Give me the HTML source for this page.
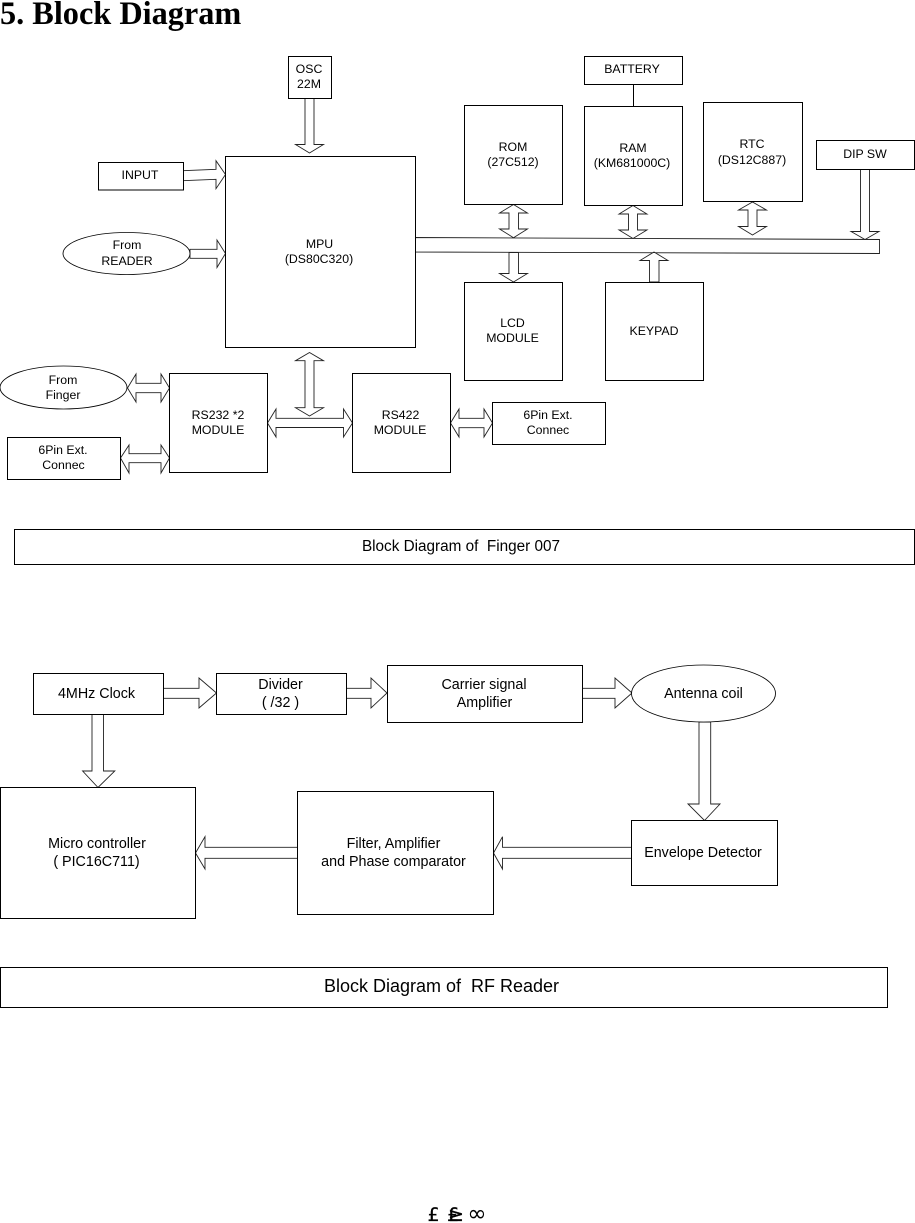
<!DOCTYPE html>
<html>
<head>
<meta charset="utf-8">
<style>
html,body{margin:0;padding:0;background:#fff;width:915px;height:1223px;overflow:hidden}
svg{display:block}
rect,ellipse{fill:#fff;stroke:#000;stroke-width:1}
ellipse{stroke-width:.85}
polygon{fill:#fff;stroke:#222;stroke-width:.9}
line{stroke:#000;stroke-width:1}
text{font-family:"Liberation Sans",sans-serif;font-size:12.3px;text-anchor:middle;fill:#000}
.r{font-size:14.3px}
.t{font-family:"Liberation Serif",serif;font-weight:bold;font-size:32.3px;text-anchor:start}
.f{font-family:"DejaVu Sans",sans-serif;font-size:19px;stroke:#000;stroke-width:.25}
</style>
</head>
<body>
<svg width="915" height="1223" viewBox="0 0 915 1223" xmlns="http://www.w3.org/2000/svg">
<text class="t" x="0" y="24">5. Block Diagram</text>

<!-- Finger 007 : bus -->
<polygon points="415,237.5 879.5,239.5 879.5,253.5 415,252"/>

<!-- arrows -->
<polygon points="305,98 314,98 314,144.5 323.5,144.5 309.5,153 295.5,144.5 305,144.5"/>
<polygon points="183,170.7 216,169.3 216,160.7 225.5,174.5 216,188.7 216,179.3 183,180.7"/>
<polygon points="190,249.3 217,249.3 217,240 225.5,253.5 217,267.5 217,258.3 190,258.3"/>
<polygon points="309.5,352.5 323.5,360.7 314,360.7 314,407.7 323.5,407.7 309.5,416 295.5,407.7 305,407.7 305,360.7 295.5,360.7"/>
<polygon points="267.5,423 276,409 276,418.3 343.5,418.3 343.5,409 352.5,423 343.5,437 343.5,427.5 276,427.5 276,437"/>
<polygon points="127.5,388 136,374 136,383.3 161,383.3 161,374 169.5,388 161,402 161,392.7 136,392.7 136,402"/>
<polygon points="120.5,458 129,445 129,453.7 161,453.7 161,445 169.5,458 161,473 161,462.7 129,462.7 129,473"/>
<polygon points="450.5,423 459,409 459,418.3 484,418.3 484,409 492.5,423 484,437 484,427.7 459,427.7 459,437"/>
<polygon points="513.5,204.5 527.5,213 518.5,213 518.5,229 527.5,229 513.5,237.7 499.5,229 509,229 509,213 499.5,213"/>
<polygon points="633,205.5 647,214 637.5,214 637.5,230 647,230 633,238.5 619,230 628.5,230 628.5,214 619,214"/>
<polygon points="752.5,202 766.5,210 757,210 757,226.5 766.5,226.5 752.5,235 738.5,226.5 748,226.5 748,210 738.5,210"/>
<polygon points="860.5,169 869.5,169 869.5,231.5 879,231.5 865,239.5 851,231.5 860.5,231.5"/>
<polygon points="509,252.5 518.5,252.5 518.5,273.5 527.5,273.5 513.5,282 499.5,273.5 509,273.5"/>
<polygon points="649.5,282 659,282 659,260.5 668,260.5 654,252 640,260.5 649.5,260.5"/>
<line x1="633.5" y1="84.5" x2="633.5" y2="106.5"/>

<!-- boxes -->
<rect x="288.5" y="56.5" width="43" height="42"/>
<rect x="98.5" y="162.5" width="85" height="27.5"/>
<rect x="225.5" y="156.5" width="190" height="191"/>
<ellipse cx="126.5" cy="253.5" rx="63.5" ry="21"/>
<ellipse cx="63.5" cy="387.5" rx="63.5" ry="21.5"/>
<rect x="169.5" y="373.5" width="98" height="99"/>
<rect x="352.5" y="373.5" width="98" height="99"/>
<rect x="7.5" y="437.5" width="113" height="42"/>
<rect x="492.5" y="402.5" width="113" height="42"/>
<rect x="584.5" y="56.5" width="98" height="28"/>
<rect x="584.5" y="106.5" width="98" height="99"/>
<rect x="464.5" y="105.5" width="98" height="99"/>
<rect x="703.5" y="102.5" width="99" height="99"/>
<rect x="816.5" y="140.5" width="98" height="29"/>
<rect x="464.5" y="282.5" width="98" height="98"/>
<rect x="605.5" y="282.5" width="98" height="98"/>
<rect x="14.5" y="529.5" width="900" height="35"/>

<!-- labels -->
<text x="309" y="73">OSC</text><text x="309" y="88">22M</text>
<text x="140" y="179">INPUT</text>
<text x="127" y="249">From</text><text x="127" y="265">READER</text>
<text x="319.5" y="248">MPU</text><text x="319" y="263">(DS80C320)</text>
<text x="63" y="384">From</text><text x="63" y="399">Finger</text>
<text x="218" y="419">RS232 *2</text><text x="218" y="434">MODULE</text>
<text x="400.5" y="419">RS422</text><text x="400" y="434">MODULE</text>
<text x="63" y="454">6Pin Ext.</text><text x="63.5" y="469">Connec</text>
<text x="548" y="419">6Pin Ext.</text><text x="548" y="434">Connec</text>
<text x="513" y="151">ROM</text><text x="513" y="166">(27C512)</text>
<text x="633" y="152">RAM</text><text x="632" y="167">(KM681000C)</text>
<text x="752" y="148">RTC</text><text x="752" y="164">(DS12C887)</text>
<text x="865" y="158">DIP SW</text>
<text x="632" y="73">BATTERY</text>
<text x="512.5" y="327">LCD</text><text x="512.5" y="342">MODULE</text>
<text x="654" y="335">KEYPAD</text>
<text x="461" y="551" style="font-size:15.3px;white-space:pre" xml:space="preserve">Block Diagram of  Finger 007</text>

<!-- RF reader arrows -->
<polygon points="163.5,688.3 199,688.3 199,678 216.5,693 199,708 199,698.3 163.5,698.3"/>
<polygon points="346.5,688.3 371,688.3 371,678 387,693 371,708 371,698.3 346.5,698.3"/>
<polygon points="582.5,688.3 615,688.3 615,678 632,693 615,708 615,698.3 582.5,698.3"/>
<polygon points="92,714.5 103.5,714.5 103.5,771 114.8,771 98,787.5 82.6,771 92,771"/>
<polygon points="699,722 710.7,722 710.7,804 720,804 704.5,820.5 688,804 699,804"/>
<polygon points="297.5,847.3 205,847.3 205,836.7 195.5,853 205,869 205,858.3 297.5,858.3"/>
<polygon points="631.5,847.3 502.5,847.3 502.5,836.7 493.5,853 502.5,869 502.5,858.3 631.5,858.3"/>

<!-- RF reader boxes -->
<rect x="33.5" y="673.5" width="130" height="41"/>
<rect x="216.5" y="673.5" width="130" height="41"/>
<rect x="387.5" y="665.5" width="195" height="57"/>
<ellipse cx="703.5" cy="693.5" rx="72" ry="28.5"/>
<rect x="0.5" y="787.5" width="195" height="131"/>
<rect x="297.5" y="791.5" width="196" height="123"/>
<rect x="631.5" y="820.5" width="146" height="65"/>
<rect x="0.5" y="967.5" width="887" height="40"/>

<text class="r" x="96.5" y="698">4MHz Clock</text>
<text class="r" x="280.5" y="689">Divider</text><text class="r" x="280.5" y="707">( /32 )</text>
<text class="r" x="484" y="689">Carrier signal</text><text class="r" x="484.5" y="707">Amplifier</text>
<text class="r" x="703.5" y="698">Antenna coil</text>
<text class="r" x="97" y="848">Micro controller</text><text class="r" x="96.5" y="866">( PIC16C711)</text>
<text class="r" x="393.5" y="848">Filter, Amplifier</text><text class="r" x="393.5" y="866">and Phase comparator</text>
<text class="r" x="703" y="857">Envelope Detector</text>
<text x="441.5" y="992" style="font-size:18px;white-space:pre" xml:space="preserve">Block Diagram of  RF Reader</text>

<!-- footer glyphs -->
<text class="f" x="433.5" y="1221">£</text>
<text class="f" x="453" y="1221">£</text>
<text class="f" x="456" y="1221">≥</text>
<text class="f" x="477" y="1221" style="font-size:23px;stroke-width:0">∞</text>
</svg>
</body>
</html>
